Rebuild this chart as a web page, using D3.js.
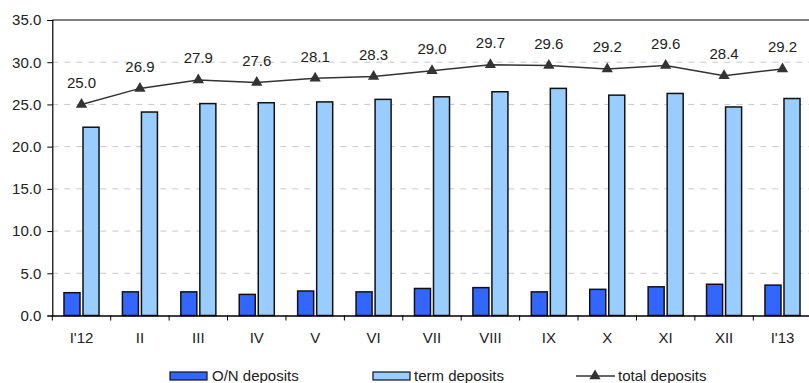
<!DOCTYPE html>
<html>
<head>
<meta charset="utf-8">
<script src="https://cdn.jsdelivr.net/npm/d3@7"></script>
<style>
  html, body { margin: 0; padding: 0; background: #fff; }
  svg { display: block; font-family: Arial, "Liberation Sans", Helvetica, sans-serif; }
  svg text { font-family: Arial, "Liberation Sans", Helvetica, sans-serif; }
</style>
</head>
<body>
<svg id="chart" width="809" height="383"></svg>
<script>
// Monthly deposits, bln
const months = ["I'12", "II", "III", "IV", "V", "VI", "VII", "VIII", "IX", "X", "XI", "XII", "I'13"];
const onDeposits = [2.7, 2.8, 2.8, 2.5, 2.9, 2.8, 3.2, 3.3, 2.8, 3.1, 3.4, 3.7, 3.6];
const termDeposits = [22.3, 24.1, 25.1, 25.2, 25.3, 25.6, 25.9, 26.5, 26.9, 26.1, 26.3, 24.7, 25.7];
const totalDeposits = [25.0, 26.9, 27.9, 27.6, 28.1, 28.3, 29.0, 29.7, 29.6, 29.2, 29.6, 28.4, 29.2];
const yTicks = [0, 5, 10, 15, 20, 25, 30, 35];
const seriesNames = ["O/N deposits", "term deposits", "total deposits"];

const svg = d3.select("#chart");
const plotLeft = 52.3, plotRight = 811.7, plotTop = 20, plotBottom = 315.5;
const FONT = 15;

const x = d3.scaleBand().domain(months).range([plotLeft, plotRight]);
const y = d3.scaleLinear().domain([0, 35]).range([plotBottom, plotTop]);
const bw = x.bandwidth();
const xSub = d3.scaleBand().domain(["on", "term"])
  .range([bw * 0.2, bw * 0.8]).paddingInner(0.158);

const colors = { on: "#3366ff", term: "#99ccff", line: "#333333" };

// dashed horizontal grid
svg.append("g")
  .selectAll("line")
  .data(yTicks.filter(t => t > 0 && t < 35))
  .join("line")
  .attr("x1", plotLeft).attr("x2", plotRight)
  .attr("y1", d => y(d)).attr("y2", d => y(d))
  .attr("stroke", "#c8c8c8").attr("stroke-width", 1)
  .attr("stroke-dasharray", "6,6");

// top frame line
svg.append("line")
  .attr("x1", plotLeft).attr("x2", plotRight)
  .attr("y1", y(35)).attr("y2", y(35))
  .attr("stroke", "#000").attr("stroke-width", 1.2);

// bars
const rows = months.map((m, i) => ({ m, on: onDeposits[i], term: termDeposits[i] }));
const groups = svg.append("g").selectAll("g")
  .data(rows).join("g")
  .attr("transform", d => `translate(${x(d.m)},0)`);

groups.selectAll("rect")
  .data(d => [{ k: "on", v: d.on }, { k: "term", v: d.term }])
  .join("rect")
  .attr("x", d => xSub(d.k))
  .attr("width", xSub.bandwidth())
  .attr("y", d => y(d.v))
  .attr("height", d => y(0) - y(d.v))
  .attr("fill", d => colors[d.k])
  .attr("stroke", "#111").attr("stroke-width", 1.5);

// y axis
const yAxis = d3.axisLeft(y).tickValues(yTicks).tickFormat(d3.format(".1f"))
  .tickSize(5).tickPadding(6);
const gy = svg.append("g").attr("transform", `translate(${plotLeft},0)`).call(yAxis);
gy.attr("font-family", null);
gy.select(".domain").attr("stroke", "#000").attr("stroke-width", 1.2);
gy.selectAll(".tick line").attr("stroke", "#000");
gy.selectAll(".tick text").attr("font-size", FONT).attr("fill", "#222");

// x axis with ticks between categories
const xAxis = d3.axisBottom(x).tickSize(0).tickPadding(17);
const gx = svg.append("g").attr("transform", `translate(0,${plotBottom})`).call(xAxis);
gx.attr("font-family", null);
gx.select(".domain").attr("stroke", "#000").attr("stroke-width", 1.5);
gx.selectAll(".tick text").attr("font-size", FONT).attr("fill", "#222");
gx.append("g").selectAll("line")
  .data(months)
  .join("line")
  .attr("x1", d => x(d)).attr("x2", d => x(d))
  .attr("y1", 0).attr("y2", 5)
  .attr("stroke", "#000");

// total deposits line
const pts = months.map((m, i) => ({ m, v: totalDeposits[i] }));
const cx = d => x(d.m) + bw / 2;
svg.append("path")
  .datum(pts)
  .attr("fill", "none")
  .attr("stroke", colors.line).attr("stroke-width", 1.5)
  .attr("d", d3.line().x(cx).y(d => y(d.v)));

const tri = d3.symbol().type(d3.symbolTriangle).size(55);
svg.append("g").selectAll("path")
  .data(pts).join("path")
  .attr("d", tri)
  .attr("transform", d => `translate(${cx(d)},${y(d.v)})`)
  .attr("fill", colors.line);

svg.append("g").selectAll("text")
  .data(pts).join("text")
  .attr("x", cx)
  .attr("y", d => y(d.v) - 16.5)
  .attr("text-anchor", "middle")
  .attr("font-size", FONT).attr("fill", "#222")
  .text(d => d.v.toFixed(1));

// legend
const lg = svg.append("g");
lg.append("rect").attr("x", 170).attr("y", 372).attr("width", 37).attr("height", 8)
  .attr("fill", colors.on).attr("stroke", "#111").attr("stroke-width", 1.2);
lg.append("text").attr("x", 212).attr("y", 381).attr("font-size", FONT).attr("fill", "#222")
  .text(seriesNames[0]);
lg.append("rect").attr("x", 373).attr("y", 372).attr("width", 37).attr("height", 8)
  .attr("fill", colors.term).attr("stroke", "#111").attr("stroke-width", 1.2);
lg.append("text").attr("x", 414).attr("y", 381).attr("font-size", FONT).attr("fill", "#222")
  .text(seriesNames[1]);
lg.append("line").attr("x1", 576).attr("x2", 615).attr("y1", 376).attr("y2", 376)
  .attr("stroke", colors.line).attr("stroke-width", 1.5);
lg.append("path").attr("d", tri).attr("transform", "translate(595,376)").attr("fill", colors.line);
lg.append("text").attr("x", 618).attr("y", 381).attr("font-size", FONT).attr("fill", "#222")
  .text(seriesNames[2]);
</script>
</body>
</html>
